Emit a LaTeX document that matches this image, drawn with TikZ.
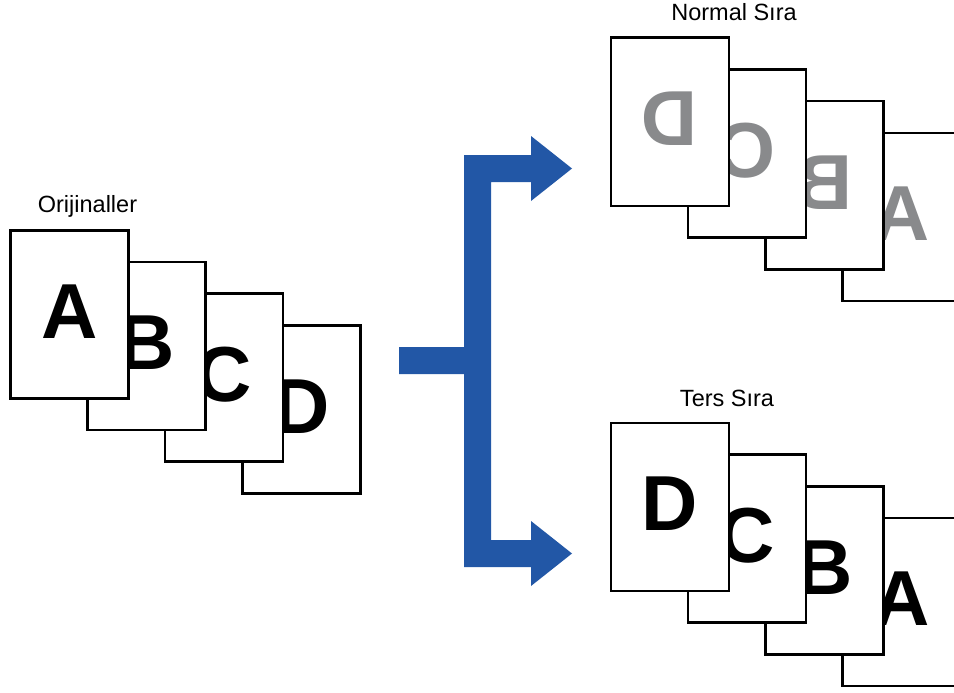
\documentclass[tikz,border=0pt]{standalone}
\usepackage{fontspec}
\setmainfont{Liberation Sans}
\definecolor{arrowblue}{HTML}{2257A6}
\definecolor{lettergray}{HTML}{898A8C}
\begin{document}
\begin{tikzpicture}[x=1pt,y=-1pt,
  pagebox/.style={draw=black, fill=white, line width=2.6pt, minimum width=118pt,
    minimum height=168pt, inner sep=0pt, anchor=north west},
  bigletter/.style={font=\fontsize{78}{78}\selectfont\bfseries, inner sep=0pt, yshift=3pt},
  grayletter/.style={bigletter, text=lettergray},
  lbl/.style={font=\fontsize{23.5}{26}\selectfont, inner sep=0pt, anchor=base}]
\useasboundingbox (0,0) rectangle (954,693);
\clip (0,0) rectangle (954,693);
% labels
\node[lbl] (tOrig) at (87.5,212) {Orijinaller};
\node[lbl] (tNorm) at (734,21) {Normal Sıra};
\node[lbl] (tTers) at (727,406) {Ters Sıra};
% left stack (originals)
\foreach \i/\l in {3/D,2/C,1/B,0/A}{
  \node[pagebox] (L\l) at (9+77.3*\i, 229+31.7*\i) {};
  \node[bigletter] (LT\l) at (L\l.center) {\l};
}
% top right stack (normal order, face down)
\foreach \i/\l in {3/A,2/B,1/C,0/D}{
  \node[pagebox] (N\l) at (609.5+77.3*\i, 36.5+31.7*\i) {};
  \node[grayletter] (NT\l) at (N\l.center) {\scalebox{-1}[1]{\l}};
}
% bottom right stack (reverse order)
\foreach \i/\l in {3/A,2/B,1/C,0/D}{
  \node[pagebox] (R\l) at (609.5+77.3*\i, 421.5+31.7*\i) {};
  \node[bigletter] (RT\l) at (R\l.center) {\l};
}
% branching arrow
\fill[arrowblue] (399,347) -- (464,347) -- (464,155) -- (531,155) -- (531,136)
  -- (572,168.5) -- (531,201) -- (531,182) -- (491,182) -- (491,540)
  -- (531,540) -- (531,521) -- (572,553.5) -- (531,586) -- (531,567)
  -- (464,567) -- (464,374) -- (399,374) -- cycle;
\end{tikzpicture}
\end{document}
